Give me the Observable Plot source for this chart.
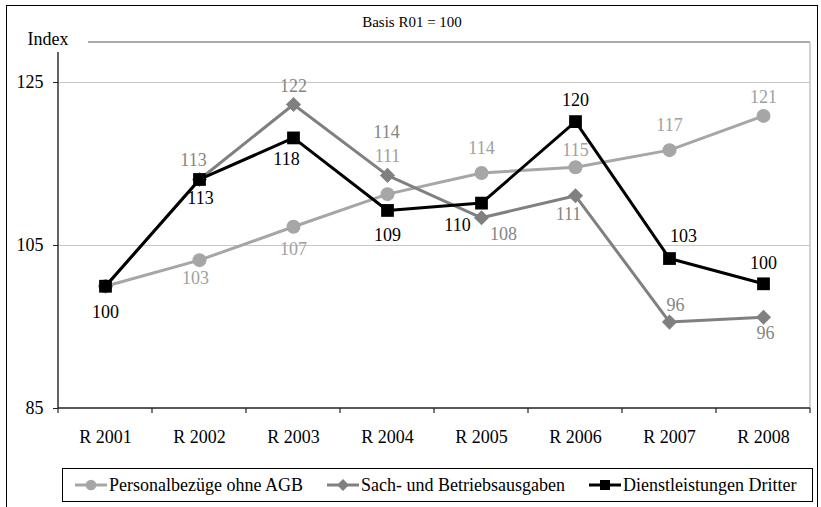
<!DOCTYPE html>
<html><head><meta charset="utf-8">
<script src="https://cdn.jsdelivr.net/npm/d3@7"></script>
<script src="https://cdn.jsdelivr.net/npm/@observablehq/plot@0.6"></script>
<style>
body{margin:0;background:#fff;}
#wrap{position:relative;width:821px;height:507px;overflow:hidden;font-family:"Liberation Serif","Times New Roman",serif;background:#fff;}
#border{position:absolute;left:6px;top:5px;width:810px;height:600px;border:1.5px solid #000;}
#chart{position:absolute;left:0;top:0;}
#legend{position:absolute;left:62px;top:468px;width:749px;height:32px;border:1px solid #000;display:flex;align-items:center;font-size:18px;background:#fff;color:#000;}
.item{display:flex;align-items:center;white-space:nowrap;}
.item svg{margin-right:2px;}
</style>
</head><body>
<div id="wrap"><div id="border"></div><div id="chart"></div><div id="legend"></div></div>
<script>
// ---- data ----
const categories = ["R 2001","R 2002","R 2003","R 2004","R 2005","R 2006","R 2007","R 2008"];
const seriesNames = ["Personalbezüge ohne AGB","Sach- und Betriebsausgaben","Dienstleistungen Dritter"];
const personal = [100, 103.2, 107.3, 111.3, 113.9, 114.6, 116.7, 120.9];
const sach     = [100, 113.1, 122.3, 113.6, 108.4, 111.1, 95.6, 96.2];
const dienst   = [100, 113.1, 118.2, 109.3, 110.2, 120.2, 103.4, 100.3];
const yTicks = [85, 105, 125];
const yMax = 128.68;

// ---- label placement (style): [dx, dy] relative to point, null = hidden ----
const personalLabelShift = [null, [-4,18], [0,22], [0,-38], [0,-25], [0,-17], [0,-25], [0,-19]];
const sachLabelShift     = [null, [-6,-19], [0,-18], [-1,-43], [22,16], [-7,18], [6,-17], [2,16]];
const dienstLabelShift   = [[0,26], [1,19], [-7,21], [0,25], [-24,22], [0,-21], [14,-22], [0,-21]];

(function () {
const styles = [
  {vals: personal, shift: personalLabelShift, color: "#a6a6a6", label: "#a0a0a0", symbol: "circle", r: 7},
  {vals: sach, shift: sachLabelShift, color: "#808080", label: "#858585", symbol: "diamond2", r: 6.8},
  {vals: dienst, shift: dienstLabelShift, color: "#000000", label: "#000000", symbol: "square", r: 7.2}
];

const rows = (vals, name) => vals.map((v, i) => ({cat: categories[i], value: v, series: name, i}));

const marks = [
  Plot.gridY(yTicks.filter(v => v > 85), {stroke: "#c8c8c8", strokeOpacity: 1, strokeWidth: 1}),
  Plot.axisY(yTicks, {tickSize: 5, tickPadding: 10, fontSize: 18, label: null, stroke: "#222"}),
  Plot.axisX({tickSize: 0, tickPadding: 22, fontSize: 18, label: null})
];
styles.forEach((s, k) => {
  const data = rows(s.vals, seriesNames[k]);
  marks.push(Plot.line(data, {x: "cat", y: "value", stroke: s.color, strokeWidth: 3}));
  marks.push(Plot.dot(data, {x: "cat", y: "value", symbol: () => s.symbol, r: s.r, fill: s.color, stroke: "none"}));
});
styles.forEach((s, k) => {
  const data = rows(s.vals, seriesNames[k]);
  data.forEach((d, i) => {
    const sh = s.shift[i];
    if (!sh) return;
    marks.push(Plot.text([d], {x: "cat", y: "value", text: d => d3.format(".0f")(d.value),
      dx: sh[0], dy: sh[1], fill: s.label, fontSize: 18}));
  });
});

const chart = Plot.plot({
  width: 821, height: 460,
  marginLeft: 58, marginRight: 11, marginTop: 52, marginBottom: 52,
  style: {fontFamily: "'Liberation Serif', 'Times New Roman', serif", fontSize: "18px", background: "transparent", color: "#000"},
  x: {type: "band", domain: categories, padding: 0, axis: null},
  y: {domain: [85, yMax], axis: null},
  marks
});
document.getElementById("chart").appendChild(chart);

// ---- decorations from scales ----
const svg = d3.select(chart);
const xs = chart.scale("x"), ys = chart.scale("y");
const bw = xs.bandwidth;
const pLeft = xs.apply(categories[0]);
const pRight = xs.apply(categories[categories.length - 1]) + bw;
const pBottom = ys.apply(85), pTop = ys.apply(yMax);
const deco = svg.insert("g", ":first-child");
deco.append("line").attr("x1", 88).attr("x2", pRight).attr("y1", pTop - 10).attr("y2", pTop - 10).attr("stroke", "#8c8c8c").attr("stroke-width", 1.5);
deco.append("line").attr("x1", pRight).attr("x2", pRight).attr("y1", pTop - 10).attr("y2", pBottom).attr("stroke", "#b4b4b4").attr("stroke-width", 1.2);
const axes = svg.append("g");
axes.append("line").attr("x1", pLeft).attr("x2", pLeft).attr("y1", pTop).attr("y2", pBottom).attr("stroke", "#222").attr("stroke-width", 1.4);
axes.append("line").attr("x1", pLeft).attr("x2", pRight).attr("y1", pBottom).attr("y2", pBottom).attr("stroke", "#222").attr("stroke-width", 1.4);
categories.concat([null]).forEach((c) => {
  const x = c === null ? pRight : xs.apply(c);
  axes.append("line").attr("x1", x).attr("x2", x).attr("y1", pBottom).attr("y2", pBottom + 5).attr("stroke", "#222").attr("stroke-width", 1.2);
});
svg.append("text").attr("x", 48).attr("y", 45).attr("font-size", 18).attr("fill", "#000").text("Index");
svg.append("text").attr("x", 412).attr("y", 27).attr("font-size", 15).attr("text-anchor", "middle").attr("fill", "#000").text("Basis R01 = 100");

// ---- legend ----
const legend = d3.select("#legend");
const gaps = [12, 24, 24];
styles.forEach((s, k) => {
  const it = legend.append("div").attr("class", "item").style("margin-left", gaps[k] + "px");
  const ks = it.append("svg").attr("width", 32).attr("height", 14);
  ks.append("line").attr("x1", 0).attr("x2", 32).attr("y1", 7).attr("y2", 7).attr("stroke", s.color).attr("stroke-width", 3);
  const sym = {circle: d3.symbolCircle, diamond2: d3.symbolDiamond2, square: d3.symbolSquare}[s.symbol];
  ks.append("path").attr("transform", "translate(16,7)").attr("d", d3.symbol(sym, s.symbol === "square" ? 100 : 90)()).attr("fill", s.color);
  it.append("span").text(seriesNames[k]);
});
})();
</script>
</body></html>
